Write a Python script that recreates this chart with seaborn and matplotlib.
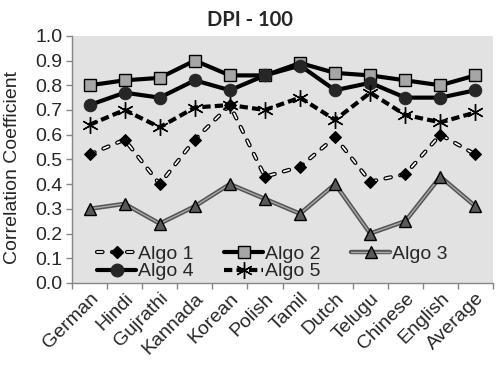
import matplotlib
matplotlib.use("Agg")
import matplotlib.pyplot as plt
import numpy as np
import pandas as pd
import seaborn as sns
from matplotlib.lines import Line2D

languages = ["German", "Hindi", "Gujrathi", "Kannada", "Korean", "Polish",
             "Tamil", "Dutch", "Telugu", "Chinese", "English", "Average"]
algo1 = [0.52, 0.58, 0.40, 0.58, 0.72, 0.43, 0.47, 0.59, 0.41, 0.44, 0.60, 0.52]
algo2 = [0.80, 0.82, 0.83, 0.90, 0.84, 0.84, 0.89, 0.85, 0.84, 0.82, 0.80, 0.84]
algo3 = [0.30, 0.32, 0.24, 0.31, 0.40, 0.34, 0.28, 0.40, 0.20, 0.25, 0.43, 0.31]
algo4 = [0.72, 0.77, 0.75, 0.82, 0.78, 0.84, 0.88, 0.78, 0.81, 0.75, 0.75, 0.78]
algo5 = [0.64, 0.70, 0.63, 0.71, 0.72, 0.70, 0.75, 0.66, 0.77, 0.68, 0.65, 0.69]

df = pd.DataFrame({"language": languages, "Algo 1": algo1, "Algo 2": algo2,
                   "Algo 3": algo3, "Algo 4": algo4, "Algo 5": algo5})

sns.set_style("ticks")
plt.rcParams['font.family'] = ['Liberation Sans', 'DejaVu Sans']

fig, ax = plt.subplots(figsize=(5, 3.66), dpi=100)
fig.subplots_adjust(left=0.144, right=0.986, bottom=0.227, top=0.902)
ax.set_facecolor('#e2e2e2')

# absolute dash pattern (points) shared by outline and white core of Algo 1
def dash(lw, on, off):
    return (0, (on / lw, off / lw))

A1_ON, A1_OFF = 4.0, 6.8

# Algo 1: hollow dashed line with black diamonds
sns.lineplot(data=df, x="language", y="Algo 1", sort=False, ax=ax, color="black", lw=3.0,
             linestyle=dash(3.0, A1_ON, A1_OFF), dash_capstyle="round", zorder=2)
sns.lineplot(data=df, x="language", y="Algo 1", sort=False, ax=ax, color="white", lw=1.2,
             linestyle=dash(1.2, A1_ON, A1_OFF), dash_capstyle="round", zorder=2.1)
sns.lineplot(data=df, x="language", y="Algo 1", sort=False, ax=ax, linestyle="none",
             marker="D", ms=6.5, mfc="black", mec="black", zorder=2.2)

# Algo 2: solid black, grey squares
sns.lineplot(data=df, x="language", y="Algo 2", sort=False, ax=ax, color="black", lw=3,
             marker="s", ms=9, mfc="#a6a6a6", mec="black", mew=1, zorder=3)

# Algo 3: grey double line with triangles
sns.lineplot(data=df, x="language", y="Algo 3", sort=False, ax=ax, color="#555555", lw=3.2, zorder=4)
sns.lineplot(data=df, x="language", y="Algo 3", sort=False, ax=ax, color="#a8a8a8", lw=1.0, zorder=4.1)
sns.lineplot(data=df, x="language", y="Algo 3", sort=False, ax=ax, linestyle="none",
             marker="^", ms=9, mfc="#595959", mec="black", mew=1, zorder=4.2)

# Algo 4: solid black, dark circles
sns.lineplot(data=df, x="language", y="Algo 4", sort=False, ax=ax, color="black", lw=3,
             marker="o", ms=9, mfc="#262626", mec="#262626", zorder=5)

# Algo 5: dashed black with asterisks
sns.lineplot(data=df, x="language", y="Algo 5", sort=False, ax=ax, color="black", lw=3,
             linestyle=dash(3, 6, 3), marker=(6, 2, 0), ms=12, mec="black", mew=1, zorder=6)

ax.set_ylim(0, 1.0)
ax.set_yticks(np.arange(0, 1.01, 0.1))
ax.set_yticklabels([f"{v:.1f}" for v in np.arange(0, 1.01, 0.1)])
ax.set_xlim(-0.5, len(languages) - 0.5)
ax.set_xticks(range(len(languages)))
ax.set_xticklabels(languages, rotation=45, ha="right", rotation_mode="anchor")
ax.set_xticks(np.arange(-0.5, len(languages), 1), minor=True)
ax.tick_params(axis="x", which="major", length=0, pad=5, labelsize=14)
ax.tick_params(axis="x", which="minor", length=4, color="#868686", width=1)
ax.tick_params(axis="y", length=4, color="#868686", width=1, pad=3, labelsize=14)
ax.set_xlabel("")
ax.set_ylabel("Correlation Coefficient", fontsize=14)
ax.yaxis.set_label_coords(-0.122, 0.467)

sns.despine(ax=ax)
for s in ["left", "bottom"]:
    ax.spines[s].set_color("#868686")
    ax.spines[s].set_linewidth(1)

fig.text(0.5, 1 - 20 / 366, "DPI - 100", ha="center", va="center",
         fontsize=14.5, fontweight="bold", family=["Lato", "DejaVu Sans"])

# legend handles
h1 = (Line2D([], [], color="black", lw=3.0, linestyle=dash(3.0, A1_ON, A1_OFF), dash_capstyle="round"),
      Line2D([], [], color="white", lw=1.2, linestyle=dash(1.2, A1_ON, A1_OFF), dash_capstyle="round"),
      Line2D([], [], linestyle="none", marker="D", ms=6.5, mfc="black", mec="black"))
h2 = Line2D([], [], color="black", lw=3, marker="s", ms=9, mfc="#a6a6a6", mec="black")
h3 = (Line2D([], [], color="#555555", lw=3.2),
      Line2D([], [], color="#a8a8a8", lw=1.0),
      Line2D([], [], linestyle="none", marker="^", ms=9, mfc="#595959", mec="black"))
h4 = Line2D([], [], color="black", lw=3, marker="o", ms=9, mfc="#262626", mec="#262626")
h5 = Line2D([], [], color="black", lw=3, linestyle=dash(3, 6, 3), marker=(6, 2, 0), ms=12, mec="black")

ax.legend([h1, h4, h2, h5, h3], ["Algo 1", "Algo 4", "Algo 2", "Algo 5", "Algo 3"],
          ncol=3, loc="lower left", bbox_to_anchor=(0.06, 0.01), frameon=False,
          fontsize=14, handlelength=2.0, handletextpad=0.12, columnspacing=1.55,
          labelspacing=0.0, borderpad=0, borderaxespad=0)

fig.savefig("out.png", dpi=100)
